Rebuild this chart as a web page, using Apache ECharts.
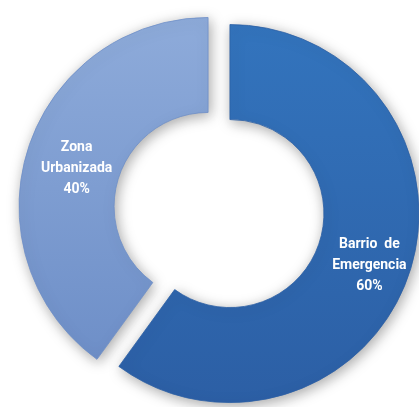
<!DOCTYPE html>
<html><head><meta charset="utf-8">
<script src="https://cdn.jsdelivr.net/npm/echarts@6/dist/echarts.min.js"></script>
<style>html,body{margin:0;padding:0;background:#fff}#c{width:419px;height:407px}</style>
</head><body><div id="c"></div>
<script>
const categories = ["Barrio de Emergencia", "Zona Urbanizada"];
const labelTexts = ["Barrio  de\nEmergencia", "Zona\nUrbanizada"];
const values = [60, 40];
const colors = [["#3374bd", "#2c5fa5"], ["#8eabda", "#6e8fc8"]];
const labelPad = [[0, 0, 0, 4], [0, 0, 0, 12]];

const chart = echarts.init(document.getElementById('c'), null, {renderer: 'canvas'});
const data = categories.map((n, i) => ({
  name: n, value: values[i], selected: true,
  itemStyle: {
    color: {type: 'linear', x: 0, y: 0, x2: 0, y2: 1,
      colorStops: [{offset: 0, color: colors[i][0]}, {offset: 1, color: colors[i][1]}]},
    borderColor: colors[i][1], borderWidth: 0.8
  },
  label: {formatter: '{s|}\n' + labelTexts[i] + '\n{d}%', padding: labelPad[i]}
}));
chart.setOption({
  animation: false,
  series: [{
    type: 'pie',
    center: [219, 210],
    radius: [94, 189],
    startAngle: 90,
    clockwise: true,
    selectedMode: 'multiple',
    selectedOffset: 11.5,
    avoidLabelOverlap: false,
    itemStyle: {shadowBlur: 14, shadowColor: 'rgba(0,0,0,0.35)', shadowOffsetX: 2, shadowOffsetY: 3},
    label: {position: 'inside', color: '#fff', fontWeight: 'bold', fontSize: 14, lineHeight: 21,
      fontFamily: '"Liberation Sans Narrow", "Roboto", sans-serif',
      rich: {s: {height: 14, lineHeight: 14, fontSize: 1}}},
    labelLine: {show: false},
    emphasis: {disabled: true},
    data: data
  }]
});
</script></body></html>
